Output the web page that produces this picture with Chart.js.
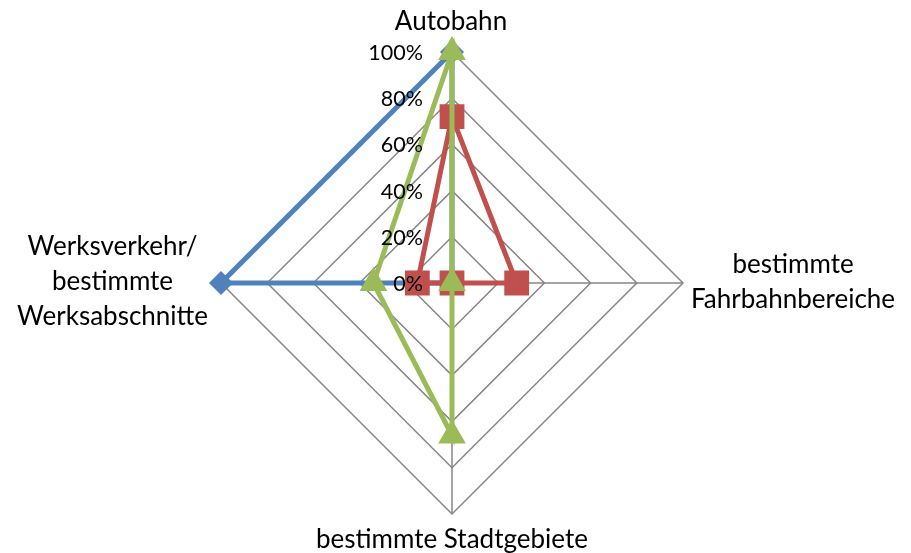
<!DOCTYPE html>
<html>
<head>
<meta charset="utf-8">
<script src="https://cdn.jsdelivr.net/npm/chart.js@4/dist/chart.umd.min.js"></script>
<style>
  html, body { margin: 0; padding: 0; background: #ffffff; }
  #wrap { width: 911px; height: 553px; position: relative; }
</style>
</head>
<body>
<div id="wrap"><canvas id="c"></canvas></div>
<script>
// Axis categories (each entry is the list of lines for one label)
const categories = [
  ['Autobahn'],
  ['bestimmte', 'Fahrbahnbereiche'],
  ['bestimmte Stadtgebiete'],
  ['Werksverkehr/', 'bestimmte', 'Werksabschnitte']
];

// Series values in percent, same order as the categories
const seriesBlue  = [100, 0, 0, 100];
const seriesRed   = [72, 28, 0, 15];
const seriesGreen = [100, 0, 66, 34];

// Radial tick labels
const tickValues = [0, 20, 40, 60, 80, 100];
const tickLabels = ['0%', '20%', '40%', '60%', '80%', '100%'];

const FONT = 'Lato, "Open Sans", sans-serif';

// Draws the percentage ticks along the top axis and the category labels
const labelsPlugin = {
  id: 'radarLabels',
  afterDraw(chart) {
    const r = chart.scales.r;
    const ctx = chart.ctx;
    ctx.save();
    ctx.fillStyle = '#000000';

    // ticks: right-aligned, left of the vertical axis
    ctx.font = '21.5px ' + FONT;
    ctx.textAlign = 'right';
    ctx.textBaseline = 'middle';
    tickValues.forEach((v, i) => {
      const p = r.getPointPositionForValue(0, v);
      ctx.fillText(tickLabels[i], p.x - 29, p.y + 1);
    });

    // category labels
    ctx.font = '26px ' + FONT;
    ctx.textAlign = 'center';
    ctx.textBaseline = 'middle';
    const lineH = 35;
    categories.forEach((lines, i) => {
      const p = r.getPointPositionForValue(i, 100);
      const w = Math.max(...lines.map(t => ctx.measureText(t).width));
      let cx, cy;
      if (i === 0) { cx = p.x - 1; cy = p.y - 30; }
      else if (i === 1) { cx = p.x + 8 + w / 2; cy = p.y - 1; }
      else if (i === 2) { cx = p.x; cy = p.y + 26; }
      else { cx = p.x - 13 - w / 2; cy = p.y - 1; }
      const top = cy - (lines.length - 1) * lineH / 2;
      lines.forEach((t, k) => ctx.fillText(t, cx, top + k * lineH));
    });
    ctx.restore();
  }
};

const gridColor = '#868686';

new Chart(document.getElementById('c'), {
  type: 'radar',
  data: {
    labels: categories.map(l => l.join(' ')),
    datasets: [
      {
        label: 'Blau',
        data: seriesBlue,
        borderColor: '#4F81BD',
        backgroundColor: '#4F81BD',
        pointBackgroundColor: '#4F81BD',
        pointBorderColor: '#4F81BD',
        pointStyle: 'rectRot',
        pointRadius: 8.5,
        borderWidth: 5,
        fill: false,
        order: 3
      },
      {
        label: 'Rot',
        data: seriesRed,
        borderColor: '#C0504D',
        backgroundColor: '#C0504D',
        pointBackgroundColor: '#C0504D',
        pointBorderColor: '#C0504D',
        pointStyle: 'rect',
        pointRadius: 14,
        borderWidth: 5,
        fill: false,
        order: 2
      },
      {
        label: 'Grün',
        data: seriesGreen,
        borderColor: '#9BBB59',
        backgroundColor: '#9BBB59',
        pointBackgroundColor: '#9BBB59',
        pointBorderColor: '#9BBB59',
        pointStyle: 'triangle',
        pointRadius: 11,
        borderWidth: 5,
        fill: false,
        order: 1
      }
    ]
  },
  options: {
    responsive: true,
    maintainAspectRatio: false,
    animation: false,
    layout: { padding: { left: 221, right: 228, top: 52, bottom: 39 } },
    plugins: {
      legend: { display: false },
      tooltip: { enabled: false }
    },
    elements: { line: { tension: 0 }, point: { borderWidth: 1, hoverRadius: 0 } },
    scales: {
      r: {
        min: 0,
        max: 100,
        ticks: { stepSize: 20, display: false, showLabelBackdrop: false },
        grid: { color: gridColor, lineWidth: 1.5 },
        angleLines: { color: gridColor, lineWidth: 1.5 },
        pointLabels: { display: false }
      }
    }
  },
  plugins: [labelsPlugin]
});
</script>
</body>
</html>
